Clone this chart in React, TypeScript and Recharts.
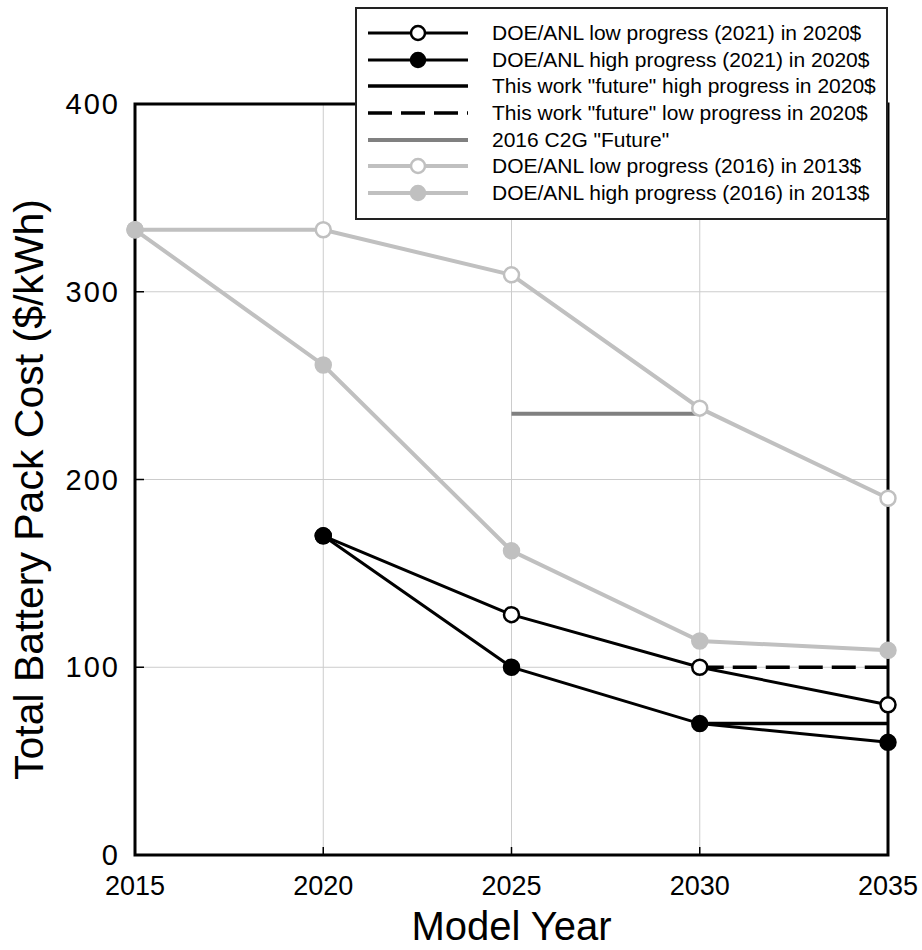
import React from 'react';
import { LineChart, Line, XAxis, YAxis, CartesianGrid, Legend, ReferenceArea } from 'recharts';

const years = [2015, 2020, 2025, 2030, 2035];
const yTicks = [0, 100, 200, 300, 400];

// values ($/kWh), null = no point
const low2021 = [null, 170, 128, 100, 80];
const high2021 = [null, 170, 100, 70, 60];
const thisWorkHigh = [null, null, null, 70, 70];
const thisWorkLow = [null, null, null, 100, 100];
const c2gFuture = [null, null, 235, 235, null];
const low2016 = [333, 333, 309, 238, 190];
const high2016 = [333, 261, 162, 114, 109];

const data = years.map((year, i) => ({
    year,
    low2021: low2021[i],
    high2021: high2021[i],
    thisWorkHigh: thisWorkHigh[i],
    thisWorkLow: thisWorkLow[i],
    c2gFuture: c2gFuture[i],
    low2016: low2016[i],
    high2016: high2016[i],
}));

const GRAY = '#c0c0c0';
const DARK_GRAY = '#808080';
const FONT = 'Arial, "Liberation Sans", sans-serif';

// legend order as in the figure
const series = [
    { key: 'low2021', name: 'DOE/ANL low progress (2021) in 2020$', color: '#000', width: 3, dot: 'open' },
    { key: 'high2021', name: 'DOE/ANL high progress (2021) in 2020$', color: '#000', width: 3, dot: 'filled' },
    { key: 'thisWorkHigh', name: 'This work "future" high progress in 2020$', color: '#000', width: 3.5 },
    { key: 'thisWorkLow', name: 'This work "future" low progress in 2020$', color: '#000', width: 3.5, dash: '24 9' },
    { key: 'c2gFuture', name: '2016 C2G "Future"', color: DARK_GRAY, width: 4 },
    { key: 'low2016', name: 'DOE/ANL low progress (2016) in 2013$', color: GRAY, width: 4, dot: 'open' },
    { key: 'high2016', name: 'DOE/ANL high progress (2016) in 2013$', color: GRAY, width: 4, dot: 'filled' },
];

// draw the gray ones first so black lines sit on top
const drawOrder = ['c2gFuture', 'low2016', 'high2016', 'thisWorkLow', 'thisWorkHigh', 'low2021', 'high2021'];

const dotFor = (s: any) => {
    if (!s.dot) return false;
    return {
        r: 7.5,
        fill: s.dot === 'open' ? '#fff' : s.color,
        stroke: s.color,
        strokeWidth: 2.5,
    };
};

const XTick = (props: any) => {
    const { x, y, payload } = props;
    return (
        <g>
            <line x1={x} x2={x} y1={y} y2={y - 8} stroke="#000" strokeWidth={1.5} />
            <text x={x} y={y + 40} textAnchor="middle" fontSize={27} fill="#000" fontFamily={FONT}>
                {payload.value}
            </text>
        </g>
    );
};

const YTick = (props: any) => {
    const { x, y, payload } = props;
    return (
        <g>
            <line x1={x} x2={x + 9} y1={y} y2={y} stroke="#000" strokeWidth={1.5} />
            <text
                x={x - 15}
                y={y + 10}
                textAnchor="end"
                fontSize={29}
                letterSpacing={2}
                fill="#000"
                fontFamily={FONT}
            >
                {payload.value}
            </text>
        </g>
    );
};

const YLabel = (props: any) => {
    const { viewBox } = props;
    const cx = 29;
    const cy = viewBox.y + viewBox.height / 2 + 10;
    return (
        <text
            x={cx}
            y={cy}
            dy={14}
            transform={`rotate(-90, ${cx}, ${cy})`}
            textAnchor="middle"
            fontSize={41}
            fill="#000"
            fontFamily={FONT}
        >
            Total Battery Pack Cost ($/kWh)
        </text>
    );
};

const LegendBox = () => (
    <div
        style={{
            width: '100%',
            height: '100%',
            boxSizing: 'border-box',
            background: '#fff',
            border: '2px solid #222',
            paddingTop: 11,
            fontFamily: FONT,
            fontSize: 21,
            color: '#000',
        }}
    >
        {series.map((s) => (
            <div key={s.key} style={{ display: 'flex', alignItems: 'center', height: 26.6, whiteSpace: 'nowrap' }}>
                <svg width={135} height={26} style={{ flex: 'none' }}>
                    <line
                        x1={11}
                        x2={111}
                        y1={13}
                        y2={13}
                        stroke={s.color}
                        strokeWidth={s.width}
                        strokeDasharray={s.dash}
                    />
                    {s.dot && (
                        <circle
                            cx={61}
                            cy={13}
                            r={7}
                            fill={s.dot === 'open' ? '#fff' : s.color}
                            stroke={s.color}
                            strokeWidth={2.5}
                        />
                    )}
                </svg>
                <span>{s.name}</span>
            </div>
        ))}
    </div>
);

export default function App() {
    return (
        <div style={{ position: 'absolute', left: 0, top: 0, fontFamily: FONT }}>
            <LineChart width={922} height={950} data={data} margin={{ top: 104, right: 34, left: 0, bottom: 0 }}>
                <CartesianGrid stroke="#cccccc" strokeWidth={1} />
                <XAxis
                    dataKey="year"
                    type="number"
                    domain={[2015, 2035]}
                    ticks={years}
                    height={95}
                    tickSize={0}
                    tickMargin={0}
                    tickLine={false}
                    axisLine={false}
                    tick={<XTick />}
                    interval={0}
                    label={{ value: 'Model Year', position: 'insideBottom', offset: 10, fontSize: 40, fill: '#000' }}
                />
                <YAxis
                    type="number"
                    domain={[0, 400]}
                    ticks={yTicks}
                    width={135}
                    tickSize={0}
                    tickMargin={0}
                    tickLine={false}
                    axisLine={false}
                    tick={<YTick />}
                    interval={0}
                    label={<YLabel />}
                />
                <ReferenceArea x1={2015} x2={2035} y1={0} y2={400} fill="none" fillOpacity={0} stroke="#000" strokeWidth={3} />
                {drawOrder.map((k) => {
                    const s: any = series.find((v) => v.key === k);
                    return (
                        <Line
                            key={k}
                            dataKey={k}
                            name={s.name}
                            stroke={s.color}
                            strokeWidth={s.width}
                            strokeDasharray={s.dash}
                            dot={dotFor(s)}
                            activeDot={false}
                            isAnimationActive={false}
                        />
                    );
                })}
                <Legend
                    layout="vertical"
                    align="center"
                    verticalAlign="middle"
                    content={() => <LegendBox />}
                    wrapperStyle={{ position: 'absolute', left: 355, top: 7, width: 533, height: 213 }}
                />
            </LineChart>
        </div>
    );
}
